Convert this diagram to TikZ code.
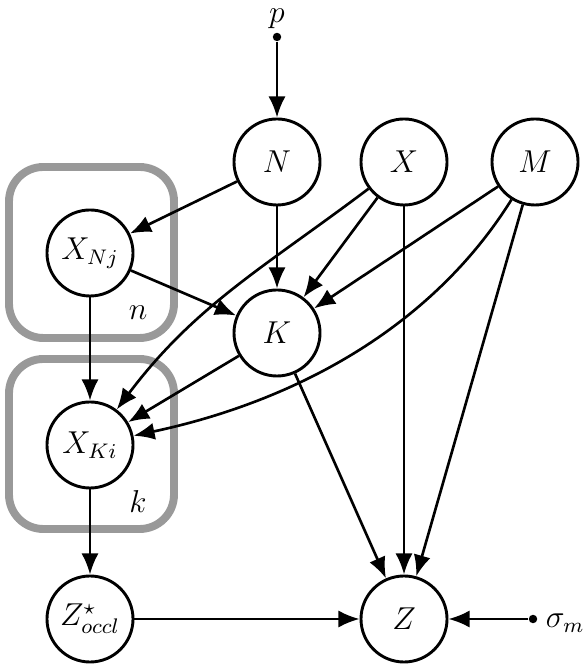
\documentclass[tikz,border=0pt]{standalone}
\usetikzlibrary{arrows.meta}
\begin{document}
\begin{tikzpicture}[x=0.379pt,y=0.379pt,
  every node/.style={font=\fontsize{11.5}{13}\selectfont},
  var/.style={circle,draw,line width=1.1pt,minimum size=32.6pt,inner sep=0pt},
  dotnode/.style={circle,fill,inner sep=0pt,minimum size=3.2pt},
  edge/.style={line width=1pt,-{Latex[length=8pt,width=6.5pt]}},
  plate/.style={draw=black!40,line width=3pt,rounded corners=13pt}]
\useasboundingbox (0,0) rectangle (582,664);
% plates
\draw[plate] (9,326) rectangle (174,497);
\draw[plate] (9,135) rectangle (174,305);
\node (nlab) at (138,351) {$n$};
\node (klab) at (138,162) {$k$};
% nodes
\node (plab) at (277,645) {$p$};
\node[dotnode] (pdot) at (277,627) {};
\node[var] (N) at (277,502) {$N$};
\node[var] (X) at (404,502) {$X$};
\node[var] (M) at (535,502) {$M$};
\node[var] (XNj) at (90,411) {$X_{Nj}$};
\node[var] (K) at (277,331) {$K$};
\node[var] (XKi) at (90,219) {$X_{Ki}$};
\node[var] (Zs) at (90,45) {$Z^\star_{occl}$};
\node[var] (Z) at (404,45) {$Z$};
\node[dotnode] (sdot) at (533,45) {};
\node[anchor=west,inner sep=0.5pt] (slab) at (544,41) {$\sigma_m$};
% edges
\draw[edge] (pdot) -- (N);
\draw[edge] (N) -- (XNj);
\draw[edge] (N) -- (K);
\draw[edge] (X) -- (K);
\draw[edge] (M) -- (K);
\draw[edge] (XNj) -- (K);
\draw[edge] (XNj) -- (XKi);
\draw[edge] (K) -- (XKi);
\draw[edge] (X) to[out=217,in=53] (XKi);
\draw[edge] (M) to[out=238,in=12,looseness=0.9] (XKi);
\draw[edge] (K) -- (Z);
\draw[edge] (X) -- (Z);
\draw[edge] (M) -- (Z);
\draw[edge] (XKi) -- (Zs);
\draw[edge] (Zs) -- (Z);
\draw[edge] (sdot) -- (Z);
\end{tikzpicture}
\end{document}
